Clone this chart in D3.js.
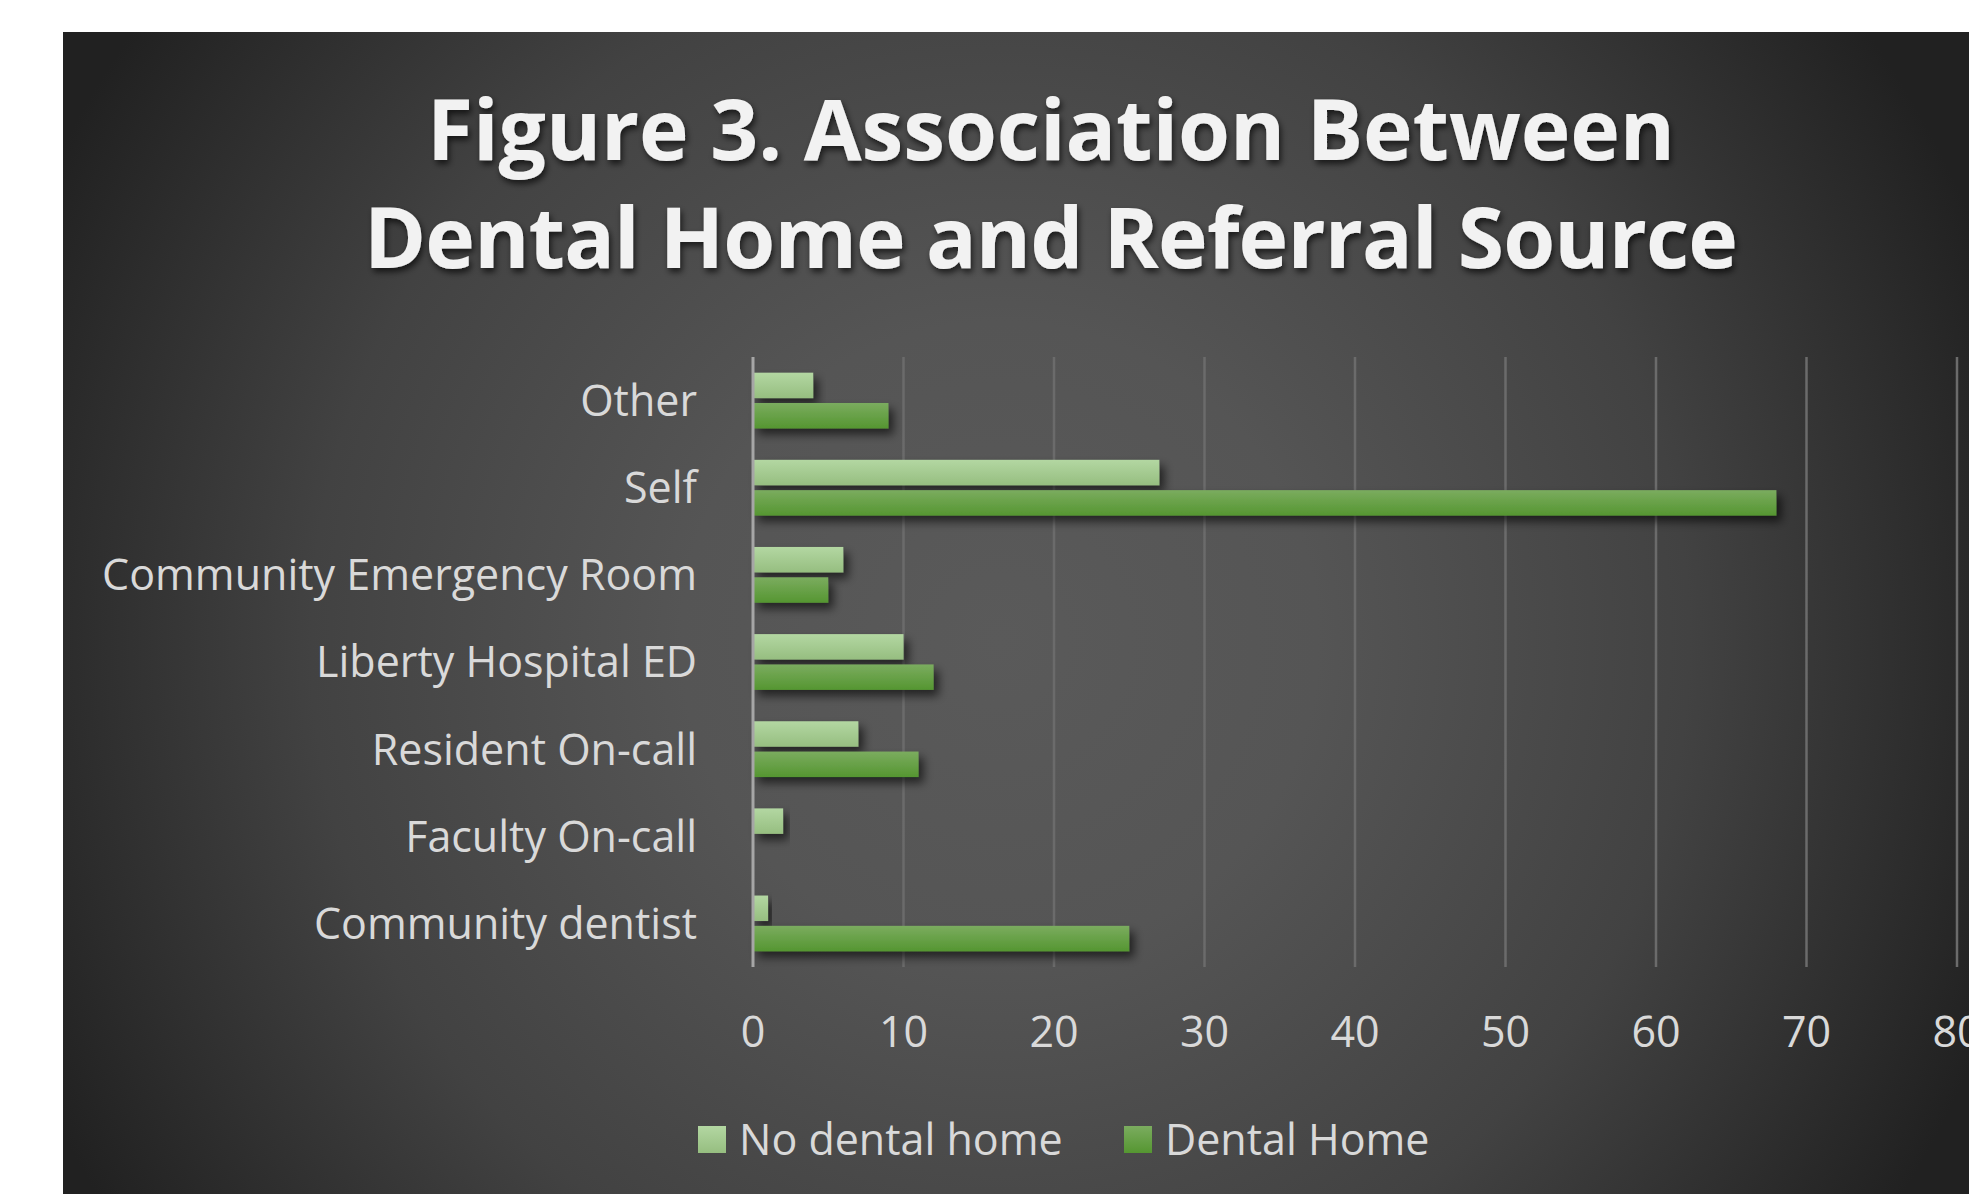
<!DOCTYPE html>
<html>
    <head>
        <script src="https://cdn.jsdelivr.net/npm/d3@7"></script>
        <style>
            body { margin: 0; background: #ffffff; }
            svg { display: block; }
        </style>
    </head>
    <body>
        <div id="viz"></div>

        <script>
            // data, bottom to top as in the source sheet
            const categories = ["Community dentist", "Faculty On-call", "Resident On-call",
                "Liberty Hospital ED", "Community Emergency Room", "Self", "Other"];
            const noDentalHome = [1, 2, 7, 10, 6, 27, 4];
            const dentalHome = [25, 0, 11, 12, 5, 68, 9];
            const seriesNames = ["No dental home", "Dental Home"];
            const xTicks = [0, 10, 20, 30, 40, 50, 60, 70, 80];
            const titleLines = ["Figure 3. Association Between", "Dental Home and Referral Source"];

            const W = 1969, H = 1194;
            const plot = {left: 753, right: 1957, top: 357, bottom: 967};
            const font = "'Open Sans', 'DejaVu Sans', sans-serif";
            const textColor = "#d9d9d9";

            const svg = d3.select("#viz").append("svg")
                .attr("width", W)
                .attr("height", H);

            const defs = svg.append("defs");

            // background radial gradient
            const bg = defs.append("radialGradient")
                .attr("id", "bg")
                .attr("gradientUnits", "userSpaceOnUse")
                .attr("cx", 1000).attr("cy", 640).attr("r", 1060);
            [[0, "#5a5a5a"], [0.3, "#555555"], [0.65, "#424242"], [1, "#212121"]].forEach(s => {
                bg.append("stop").attr("offset", s[0]).attr("stop-color", s[1]);
            });

            // bar gradients
            function barGrad(id, top, bottom) {
                const g = defs.append("linearGradient").attr("id", id)
                    .attr("x1", 0).attr("y1", 0).attr("x2", 0).attr("y2", 1);
                g.append("stop").attr("offset", 0).attr("stop-color", top);
                g.append("stop").attr("offset", 1).attr("stop-color", bottom);
            }
            barGrad("g0", "#b3d7a2", "#96be80");
            barGrad("g1", "#7bac5f", "#559631");
            const fills = ["url(#g0)", "url(#g1)"];

            const barShadow = defs.append("filter").attr("id", "barShadow")
                .attr("x", "-20%").attr("y", "-50%").attr("width", "140%").attr("height", "220%");
            barShadow.append("feDropShadow")
                .attr("dx", 5).attr("dy", 6).attr("stdDeviation", 5)
                .attr("flood-color", "#000").attr("flood-opacity", 0.6);

            const textShadow = defs.append("filter").attr("id", "textShadow")
                .attr("x", "-5%").attr("y", "-20%").attr("width", "110%").attr("height", "150%");
            textShadow.append("feDropShadow")
                .attr("dx", 2).attr("dy", 4).attr("stdDeviation", 3)
                .attr("flood-color", "#000").attr("flood-opacity", 0.65);

            svg.append("rect")
                .attr("x", 63).attr("y", 32)
                .attr("width", W - 63).attr("height", H - 32)
                .attr("fill", "url(#bg)");

            // title
            const titleWidths = [1248, 1374];
            const titleBase = [160, 268];
            titleLines.forEach((t, i) => {
                svg.append("text")
                    .attr("x", 1051)
                    .attr("y", titleBase[i])
                    .attr("text-anchor", "middle")
                    .attr("font-family", font)
                    .attr("font-weight", 700)
                    .attr("font-size", 84)
                    .attr("fill", "#f2f2f2")
                    .attr("textLength", titleWidths[i])
                    .attr("lengthAdjust", "spacing")
                    .attr("filter", "url(#textShadow)")
                    .text(t);
            });

            // scales
            const x = d3.scaleLinear()
                .domain([0, 80])
                .range([plot.left, plot.right]);

            const y = d3.scaleBand()
                .domain(categories.slice().reverse())
                .range([plot.top, plot.bottom])
                .paddingInner(0.36)
                .paddingOuter(0.18);

            const ySub = d3.scaleBand()
                .domain([0, 1])
                .range([0, y.bandwidth()])
                .paddingInner(0.16);

            // gridlines
            svg.append("g")
                .selectAll("line")
                .data(xTicks.filter(d => d > 0))
                .join("line")
                .attr("x1", d => x(d)).attr("x2", d => x(d))
                .attr("y1", plot.top).attr("y2", plot.bottom)
                .attr("stroke", "#6b6b6b")
                .attr("stroke-width", 2.5);

            // bars
            const rows = categories.map((c, i) => ({cat: c, vals: [noDentalHome[i], dentalHome[i]]}));
            const groups = svg.append("g")
                .selectAll("g")
                .data(rows)
                .join("g")
                .attr("transform", d => "translate(0," + y(d.cat) + ")");

            groups.selectAll("rect")
                .data(d => d.vals.map((v, k) => ({v: v, k: k})))
                .join("rect")
                .filter(d => d.v > 0)
                .attr("x", x(0))
                .attr("y", d => ySub(d.k))
                .attr("width", d => x(d.v) - x(0))
                .attr("height", ySub.bandwidth())
                .attr("fill", d => fills[d.k])
                .attr("filter", "url(#barShadow)");

            // category axis line
            svg.append("line")
                .attr("x1", x(0)).attr("x2", x(0))
                .attr("y1", plot.top).attr("y2", plot.bottom)
                .attr("stroke", "#a6a6a6")
                .attr("stroke-width", 3);

            // category labels
            svg.append("g")
                .selectAll("text")
                .data(categories)
                .join("text")
                .attr("x", 697)
                .attr("y", d => y(d) + y.bandwidth() / 2)
                .attr("dy", "0.36em")
                .attr("text-anchor", "end")
                .attr("font-family", font)
                .attr("font-size", 43)
                .attr("fill", textColor)
                .text(d => d);

            // value axis labels
            svg.append("g")
                .selectAll("text")
                .data(xTicks)
                .join("text")
                .attr("x", d => x(d))
                .attr("y", 1032)
                .attr("dy", "0.36em")
                .attr("text-anchor", "middle")
                .attr("font-family", font)
                .attr("font-size", 43)
                .attr("fill", textColor)
                .text(d => d);

            // legend
            const legendX = [698, 1124];
            const legend = svg.append("g")
                .selectAll("g")
                .data(seriesNames)
                .join("g")
                .attr("transform", (d, i) => "translate(" + legendX[i] + ",1126)");
            legend.append("rect")
                .attr("width", 28).attr("height", 27)
                .attr("fill", (d, i) => fills[i]);
            legend.append("text")
                .attr("x", 41)
                .attr("y", 13.5)
                .attr("dy", "0.36em")
                .attr("font-family", font)
                .attr("font-size", 43)
                .attr("fill", textColor)
                .text(d => d);
        </script>
    </body>
</html>
